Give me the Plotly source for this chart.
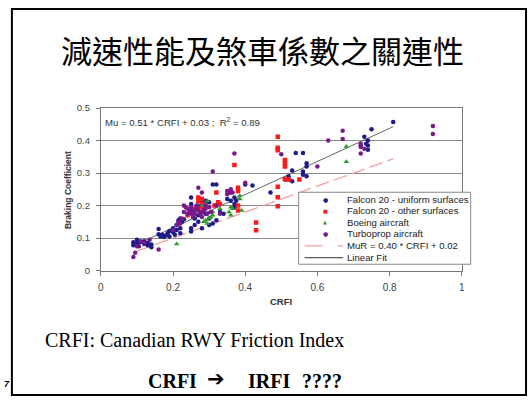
import plotly.graph_objects as go

W, H = 532, 402

# ---------------- data ----------------
uniform_x = [0.09, 0.09, 0.10, 0.10, 0.11, 0.12, 0.12, 0.13, 0.13, 0.14, 0.14, 0.105,
             0.16, 0.16, 0.165, 0.17, 0.175, 0.18, 0.185, 0.19, 0.19, 0.20, 0.20, 0.205, 0.21, 0.21,
             0.215, 0.22, 0.22, 0.225, 0.23, 0.22, 0.215,
             0.25, 0.25, 0.25, 0.25, 0.25, 0.26, 0.26, 0.27, 0.27, 0.28, 0.28, 0.29, 0.29, 0.30, 0.30,
             0.30, 0.31, 0.32, 0.31, 0.32, 0.33, 0.34, 0.35, 0.36, 0.36, 0.37, 0.37, 0.37, 0.375, 0.38,
             0.40, 0.42,
             0.47, 0.51, 0.52, 0.53, 0.53, 0.52, 0.54, 0.56, 0.56, 0.56, 0.57, 0.57, 0.57, 0.73, 0.74,
             0.74, 0.74, 0.735, 0.75, 0.81, 0.72]
uniform_y = [0.087, 0.078, 0.095, 0.084, 0.088, 0.090, 0.082, 0.085, 0.078, 0.072, 0.080, 0.075,
             0.128, 0.112, 0.105, 0.110, 0.103, 0.108, 0.115, 0.105, 0.122, 0.118, 0.130, 0.110, 0.125, 0.140,
             0.155, 0.160, 0.130, 0.150, 0.158, 0.115, 0.145,
             0.225, 0.205, 0.185, 0.130, 0.120, 0.160, 0.140, 0.170, 0.150, 0.130, 0.210, 0.175, 0.215, 0.210, 0.160,
             0.140, 0.265, 0.265, 0.145, 0.155, 0.180, 0.175, 0.220, 0.240, 0.215, 0.225, 0.205, 0.195, 0.215, 0.245,
             0.265, 0.262,
             0.240, 0.280, 0.290, 0.308, 0.275, 0.280, 0.362, 0.362, 0.305, 0.295, 0.330, 0.320, 0.290, 0.412, 0.400,
             0.385, 0.372, 0.390, 0.435, 0.457, 0.385]

other_x = [0.27, 0.27, 0.28, 0.28, 0.275, 0.285, 0.29, 0.32, 0.315, 0.325, 0.33, 0.37, 0.38, 0.38,
           0.38, 0.38, 0.43, 0.43, 0.49, 0.49, 0.49, 0.49, 0.49, 0.49, 0.51, 0.51, 0.51, 0.51, 0.52,
           0.55, 0.26, 0.24]
other_y = [0.225, 0.215, 0.220, 0.205, 0.195, 0.190, 0.200, 0.240, 0.200, 0.210, 0.205, 0.325, 0.255, 0.245,
           0.200, 0.185, 0.148, 0.124, 0.412, 0.378, 0.370, 0.258, 0.226, 0.198, 0.340, 0.330, 0.320, 0.282, 0.280,
           0.280, 0.190, 0.170]

boeing_x = [0.21, 0.285, 0.29, 0.295, 0.30, 0.305, 0.31, 0.31, 0.295, 0.28, 0.355, 0.36, 0.36, 0.365,
            0.385, 0.385, 0.39, 0.68, 0.68, 0.33]
boeing_y = [0.082, 0.150, 0.155, 0.145, 0.160, 0.165, 0.180, 0.170, 0.215, 0.200, 0.180, 0.170, 0.195, 0.190,
            0.220, 0.230, 0.185, 0.382, 0.335, 0.190]

turbo_x = [0.09, 0.095, 0.10, 0.11, 0.12, 0.135, 0.16, 0.20, 0.21, 0.215, 0.22, 0.225, 0.23, 0.235, 0.24,
           0.245, 0.25, 0.255, 0.26, 0.265, 0.27, 0.27, 0.275, 0.28, 0.285, 0.29, 0.295, 0.30, 0.305, 0.31,
           0.26, 0.265, 0.28, 0.28, 0.29, 0.25, 0.35, 0.35, 0.355, 0.36, 0.365, 0.37, 0.40, 0.50, 0.60,
           0.63, 0.67, 0.67, 0.72, 0.72, 0.72, 0.73, 0.92, 0.92, 0.32, 0.33, 0.24, 0.23, 0.27, 0.255]
turbo_y = [0.042, 0.055, 0.075, 0.090, 0.085, 0.095, 0.065, 0.125, 0.140, 0.150, 0.145, 0.160, 0.200, 0.195, 0.175,
           0.180, 0.175, 0.180, 0.185, 0.190, 0.255, 0.185, 0.175, 0.180, 0.185, 0.190, 0.175, 0.195, 0.180, 0.305,
           0.175, 0.200, 0.240, 0.165, 0.200, 0.195, 0.235, 0.245, 0.240, 0.250, 0.240, 0.360, 0.270, 0.358, 0.320,
           0.400, 0.430, 0.405, 0.390, 0.380, 0.360, 0.375, 0.445, 0.420, 0.200, 0.175, 0.190, 0.180, 0.200, 0.165]

mur_x = [0.10, 0.81]
mur_y = [0.060, 0.344]
fit_x = [0.10, 0.81]
fit_y = [0.081, 0.443]

x_ticks = [0, 0.2, 0.4, 0.6, 0.8, 1]
x_ticktext = ["0", "0.2", "0.4", "0.6", "0.8", "1"]
y_ticks = [0, 0.1, 0.2, 0.3, 0.4, 0.5]
y_ticktext = ["0", "0.1", "0.2", "0.3", "0.4", "0.5"]

series_names = ["Falcon 20 - uniform surfaces", "Falcon 20 - other surfaces", "Boeing aircraft",
                "Turboprop aircraft", "MuR = 0.40 * CRFI + 0.02", "Linear Fit"]

title_text = "減速性能及煞車係數之關連性"
line1_text = "CRFI: Canadian RWY Friction Index"
line2_parts = ["CRFI", "➔", "IRFI", "????"]
eq_text = "Mu = 0.51 * CRFI + 0.03 ;  R<sup>2</sup> = 0.89"

# ---------------- styles ----------------
BLUE = "#1b1b8a"
RED = "#ff1a1a"
GREEN = "#2e9a2e"
PURPLE = "#7a1a8a"
PINK = "#f4a0a0"
FITC = "#666666"
CF = "Liberation Sans, Arial, sans-serif"
SERIF = "Liberation Serif, Times New Roman, serif"


def X(px):
    return px / W


def Y(py):
    return 1 - py / H


fig = go.Figure()
fig.add_trace(go.Scatter(x=mur_x, y=mur_y, mode="lines",
                         line=dict(color=PINK, width=1.3, dash="14px,5px"), hoverinfo="skip"))
fig.add_trace(go.Scatter(x=fit_x, y=fit_y, mode="lines",
                         line=dict(color=FITC, width=1), hoverinfo="skip"))
fig.add_trace(go.Scatter(x=uniform_x, y=uniform_y, mode="markers",
                         marker=dict(color=BLUE, size=4.5, symbol="circle")))
fig.add_trace(go.Scatter(x=other_x, y=other_y, mode="markers",
                         marker=dict(color=RED, size=4.5, symbol="square")))
fig.add_trace(go.Scatter(x=boeing_x, y=boeing_y, mode="markers",
                         marker=dict(color=GREEN, size=5, symbol="triangle-up")))
fig.add_trace(go.Scatter(x=turbo_x, y=turbo_y, mode="markers",
                         marker=dict(color=PURPLE, size=4.5, symbol="circle")))

shapes = []
annotations = []


def txt(text, px, py, size, family=CF, color="black", xanchor="left", angle=0):
    annotations.append(dict(text=text, x=X(px), y=Y(py), xref="paper", yref="paper",
                            showarrow=False, xanchor=xanchor, yanchor="middle", textangle=angle,
                            borderpad=0, font=dict(family=family, size=size, color=color)))


# slide frame
shapes.append(dict(type="rect", xref="paper", yref="paper", x0=X(9), x1=X(529), y0=Y(400), y1=Y(3),
                   line=dict(color="black", width=2), layer="below"))

# title and bottom text
txt(title_text, 262, 45, 31, family="Noto Sans CJK TC", xanchor="center")
txt(line1_text, 41, 343, 20, family=SERIF)
txt("<b>" + line2_parts[0] + "</b>", 146, 386, 20, family=SERIF)
txt("<b>" + line2_parts[1] + "</b>", 215.5, 384, 21, family="DejaVu Sans", xanchor="center")
txt("<b>" + line2_parts[2] + "</b>", 247, 386, 20, family=SERIF)
txt("<b>" + line2_parts[3] + "</b>", 301, 386, 20, family=SERIF)
txt("<b><i>7</i></b>", 0, 388.5, 9)

# axis titles and equation
txt("<b>Braking Coefficient</b>", 66, 189, 8.5, color="#333", xanchor="center", angle=-90)
txt("<b>CRFI</b>", 281.5, 304, 9.5, color="#333", xanchor="center")
txt(eq_text, 102, 119, 9.6, color="#333")

# legend box
shapes.append(dict(type="rect", xref="paper", yref="paper", x0=X(299), x1=X(473), y0=Y(265.5), y1=Y(191.5),
                   line=dict(color="#888", width=1), fillcolor="white", layer="above"))
rows = [198.5, 210.5, 222.3, 234.3, 246.6, 258.8]
marker_glyphs = [("●", BLUE, 6), ("■", RED, 5), ("▲", GREEN, 5), ("●", PURPLE, 6)]
for i, (g, c, s) in enumerate(marker_glyphs):
    txt(g, 326, rows[i], s, family="DejaVu Sans", color=c, xanchor="center")
shapes.append(dict(type="line", xref="paper", yref="paper", x0=X(305), x1=X(344), y0=Y(rows[4]), y1=Y(rows[4]),
                   line=dict(color=PINK, width=1.3, dash="18px,15px"), layer="above"))
shapes.append(dict(type="line", xref="paper", yref="paper", x0=X(305), x1=X(344), y0=Y(rows[5]), y1=Y(rows[5]),
                   line=dict(color="#333", width=1), layer="above"))
for i, name in enumerate(series_names):
    txt(name, 347, rows[i], 9.6, color="#222")

fig.update_layout(
    width=W, height=H,
    margin=dict(l=0, r=0, t=0, b=0),
    paper_bgcolor="white", plot_bgcolor="white",
    showlegend=False,
    shapes=shapes, annotations=annotations,
    xaxis=dict(domain=[X(99), X(464)], range=[0, 1], tickvals=x_ticks, ticktext=x_ticktext,
               ticks="outside", ticklen=4, tickcolor="#777", showline=True, linecolor="#777",
               linewidth=1, mirror=True, showgrid=False, zeroline=False,
               tickfont=dict(family=CF, size=10, color="#444"), ticklabelstandoff=3),
    yaxis=dict(domain=[Y(272), Y(105)], range=[0, 0.5], tickvals=y_ticks, ticktext=y_ticktext,
               ticks="outside", ticklen=4, tickcolor="#777", showline=True, linecolor="#777",
               linewidth=1, mirror=True, showgrid=True, gridcolor="#8a8a8a", gridwidth=1, zeroline=False,
               tickfont=dict(family=CF, size=9.5, color="#444"), ticklabelstandoff=4),
)

fig.write_html("out.html")
